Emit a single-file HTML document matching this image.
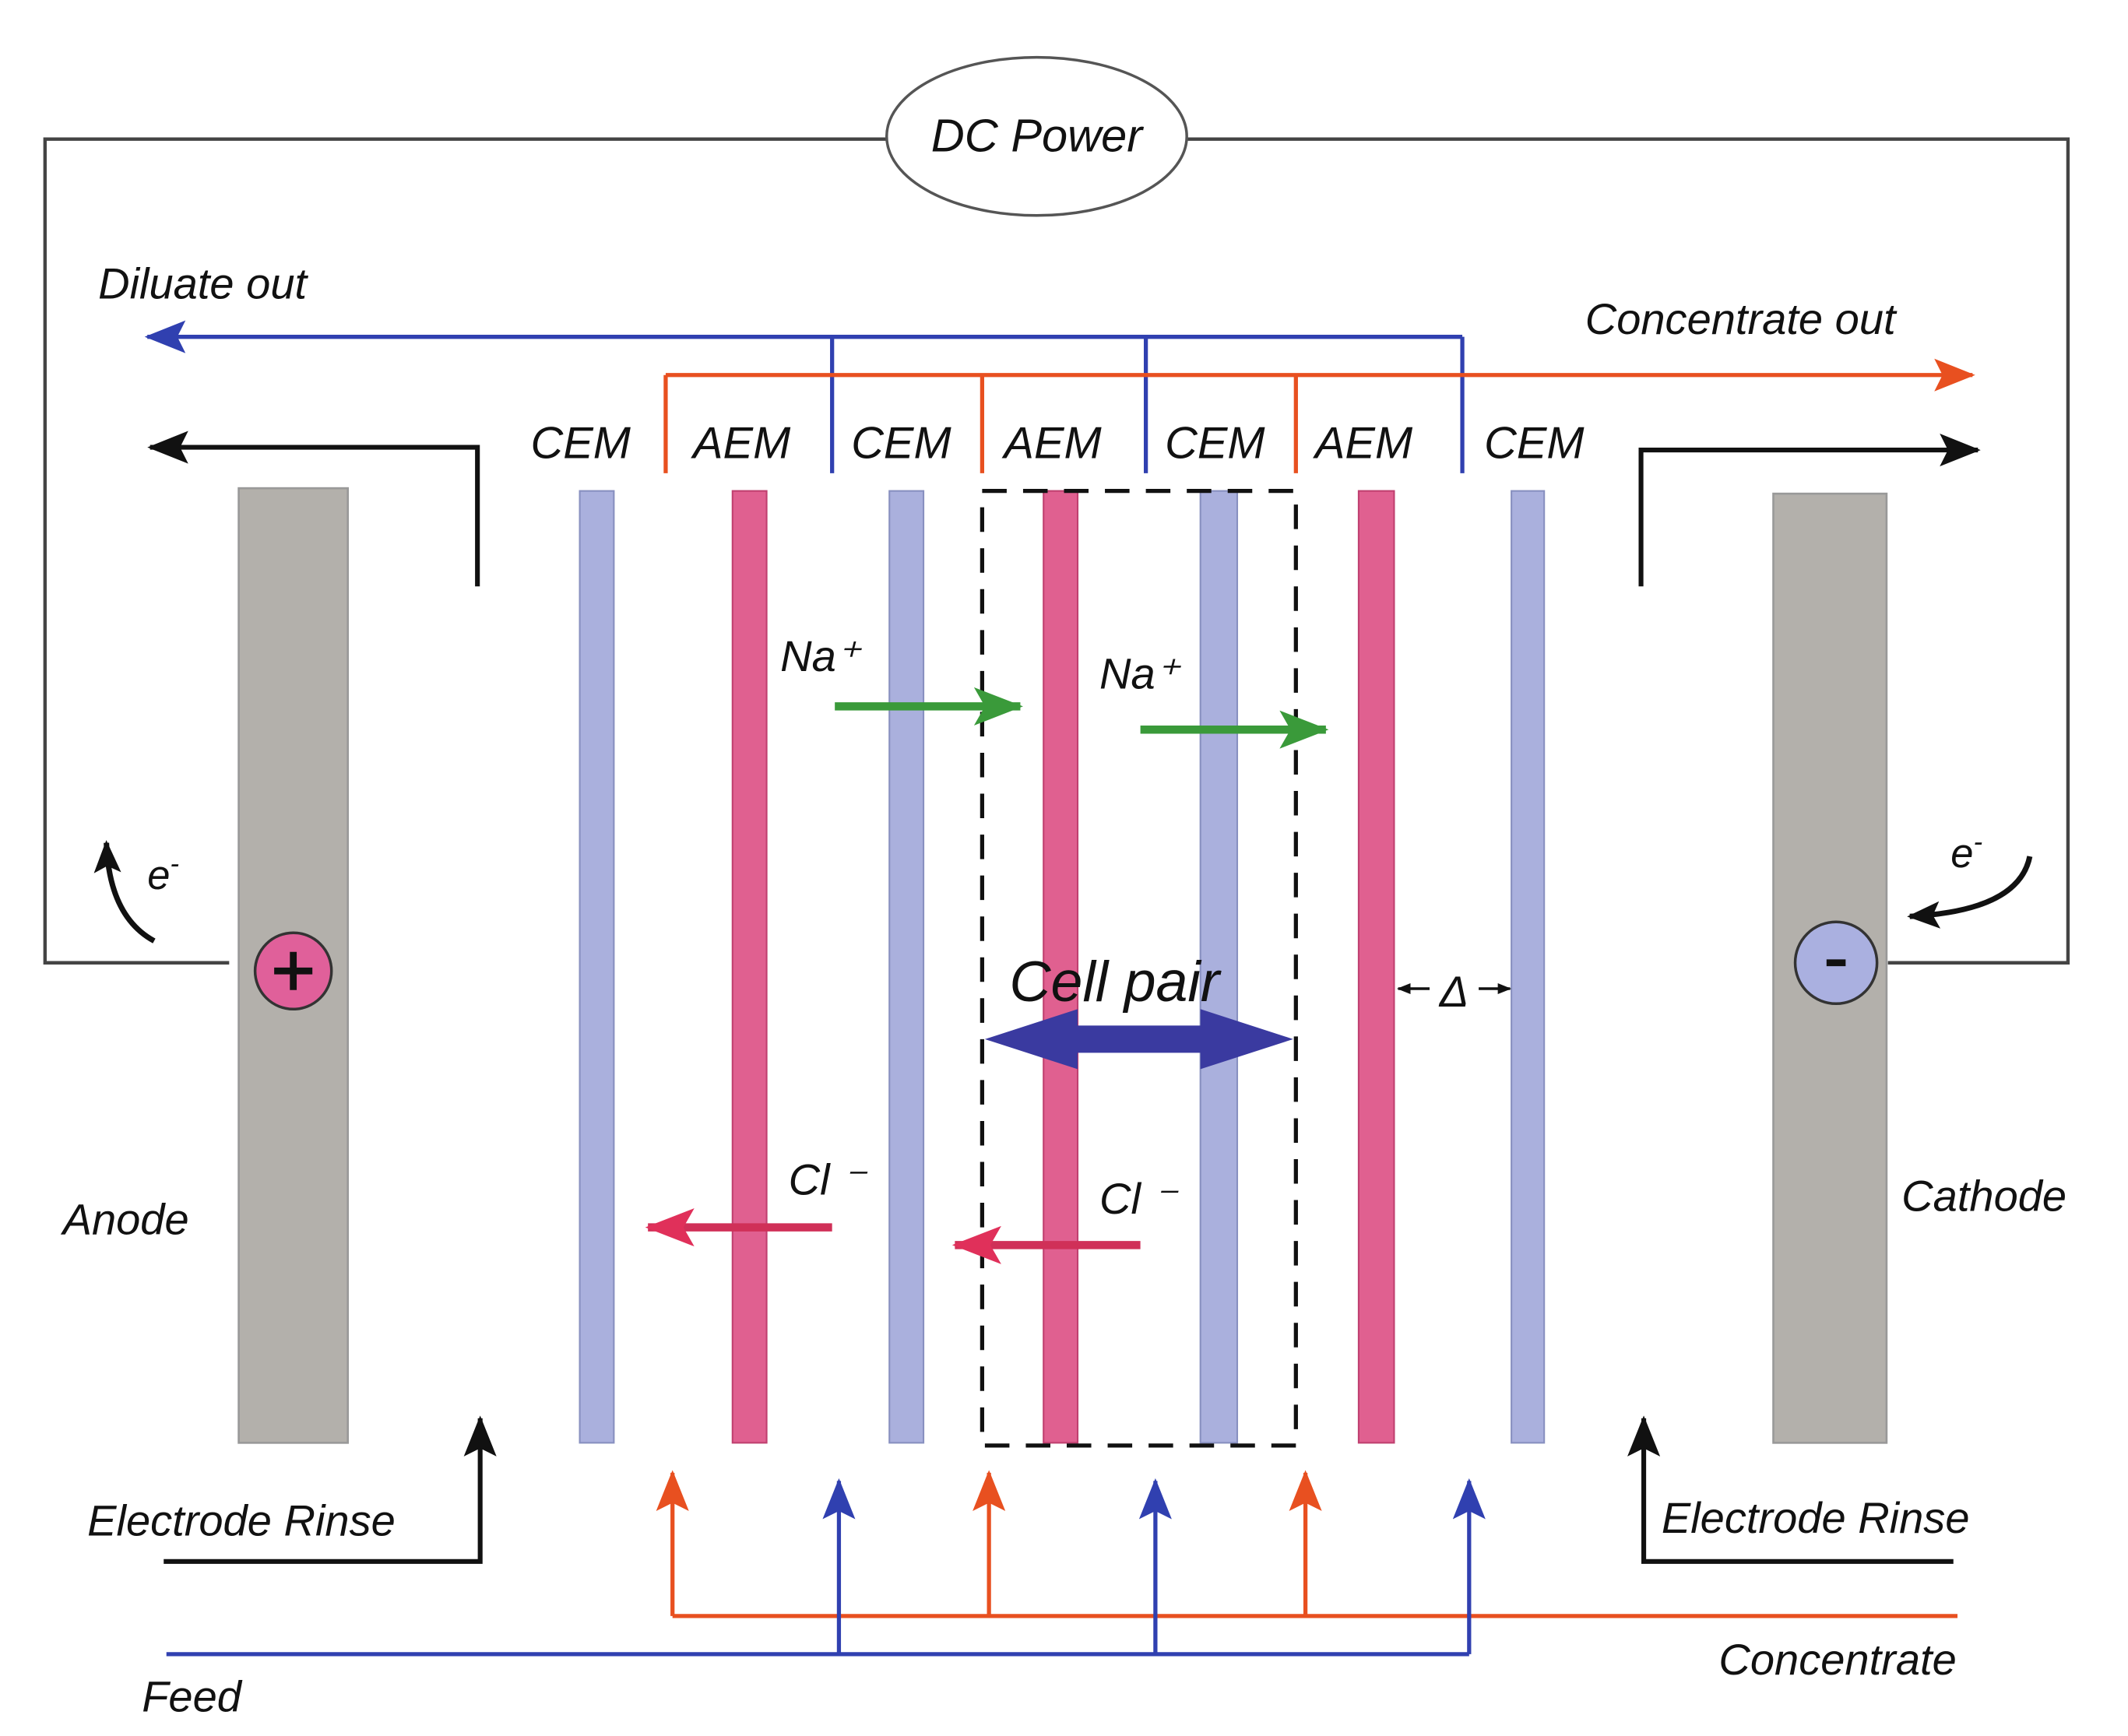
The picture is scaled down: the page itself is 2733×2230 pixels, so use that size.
<!DOCTYPE html>
<html><head><meta charset="utf-8"><style>
html,body{margin:0;padding:0;background:#fff}
svg{display:block}
text{font-family:"Liberation Sans",Arial,sans-serif;font-style:italic;fill:#111}
</style></head><body>
<svg width="2733" height="2230" viewBox="0 0 1560 1273" preserveAspectRatio="none" xmlns="http://www.w3.org/2000/svg">
<defs>
<marker id="abig" markerWidth="30" markerHeight="24" refX="28" refY="12" orient="auto" markerUnits="userSpaceOnUse"><path d="M0,0 L30,12 L0,24 L6,12z" fill="#3040b0"/></marker>
<marker id="aobig" markerWidth="30" markerHeight="24" refX="28" refY="12" orient="auto" markerUnits="userSpaceOnUse"><path d="M0,0 L30,12 L0,24 L6,12z" fill="#e85020"/></marker>
<marker id="akbig" markerWidth="30" markerHeight="24" refX="28" refY="12" orient="auto" markerUnits="userSpaceOnUse"><path d="M0,0 L30,12 L0,24 L6,12z" fill="#111"/></marker>
<marker id="ake" markerWidth="24" markerHeight="20" refX="22" refY="10" orient="auto" markerUnits="userSpaceOnUse"><path d="M0,0 L24,10 L0,20 L5,10z" fill="#111"/></marker>
<marker id="ag" markerWidth="36" markerHeight="28" refX="34" refY="14" orient="auto" markerUnits="userSpaceOnUse"><path d="M0,0 L36,14 L0,28 L8,14z" fill="#3a9a3a"/></marker>
<marker id="ar" markerWidth="36" markerHeight="28" refX="34" refY="14" orient="auto" markerUnits="userSpaceOnUse"><path d="M0,0 L36,14 L0,28 L8,14z" fill="#e0305a"/></marker>
<marker id="as" markerWidth="10" markerHeight="10" refX="9" refY="5" orient="auto" markerUnits="userSpaceOnUse"><path d="M0,1 L10,5 L0,9z" fill="#111"/></marker>
</defs>

<path d="M168,706 H33 V102 H650 M870,102 H1516 V706 H1384" fill="none" stroke="#444" stroke-width="2.5"/>
<ellipse cx="760" cy="100" rx="110" ry="58" fill="#fff" stroke="#555" stroke-width="2"/>
<text x="760" y="111" font-size="34" text-anchor="middle">DC Power</text>

<line x1="1072" y1="247" x2="108" y2="247" stroke="#3040b0" stroke-width="3" marker-end="url(#abig)"/>
<path d="M610,247 V347 M840,247 V347 M1072,247 V347" stroke="#3040b0" stroke-width="3" fill="none"/>
<line x1="488" y1="275" x2="1446" y2="275" stroke="#e85020" stroke-width="3" marker-end="url(#aobig)"/>
<path d="M488,275 V347 M720,275 V347 M950,275 V347" stroke="#e85020" stroke-width="3" fill="none"/>
<text x="72" y="219" font-size="32">Diluate out</text>
<text x="1162" y="245" font-size="32">Concentrate out</text>

<path d="M350,430 V328 H110" fill="none" stroke="#111" stroke-width="3.5" marker-end="url(#akbig)"/>
<path d="M1203,430 V330 H1450" fill="none" stroke="#111" stroke-width="3.5" marker-end="url(#akbig)"/>

<g font-size="33">
<text x="389" y="336">CEM</text><text x="508" y="336">AEM</text><text x="624" y="336">CEM</text>
<text x="736" y="336">AEM</text><text x="854" y="336">CEM</text><text x="964" y="336">AEM</text><text x="1088" y="336">CEM</text>
</g>

<rect x="175" y="358" width="80" height="700" fill="#b3b0ab" stroke="#999" stroke-width="1.5"/>
<rect x="1300" y="362" width="83" height="696" fill="#b3b0ab" stroke="#999" stroke-width="1.5"/>
<circle cx="215" cy="712" r="28" fill="#e0609a" stroke="#333" stroke-width="2"/>
<path d="M201,712 H229 M215,698 V726" stroke="#111" stroke-width="5"/>
<circle cx="1346" cy="706" r="30" fill="#aab0e0" stroke="#333" stroke-width="2"/>
<line x1="1339" y1="706" x2="1353" y2="706" stroke="#111" stroke-width="5"/>

<g stroke-width="1.2">
<rect x="425" y="360" width="25" height="698" fill="#aab0dd" stroke="#8890c0"/>
<rect x="537" y="360" width="25" height="698" fill="#e06090" stroke="#c04070"/>
<rect x="652" y="360" width="25" height="698" fill="#aab0dd" stroke="#8890c0"/>
<rect x="765" y="360" width="25" height="698" fill="#e06090" stroke="#c04070"/>
<rect x="880" y="360" width="27" height="698" fill="#aab0dd" stroke="#8890c0"/>
<rect x="996" y="360" width="26" height="698" fill="#e06090" stroke="#c04070"/>
<rect x="1108" y="360" width="24" height="698" fill="#aab0dd" stroke="#8890c0"/>
</g>

<rect x="720" y="360" width="230" height="700" fill="none" stroke="#111" stroke-width="3" stroke-dasharray="18,12"/>

<text x="572" y="492" font-size="32">Na⁺</text>
<text x="806" y="505" font-size="32">Na⁺</text>
<line x1="612" y1="518" x2="748" y2="518" stroke="#3a9a3a" stroke-width="6" marker-end="url(#ag)"/>
<line x1="836" y1="535" x2="972" y2="535" stroke="#3a9a3a" stroke-width="6" marker-end="url(#ag)"/>
<text x="578" y="876" font-size="32">Cl ⁻</text>
<text x="806" y="890" font-size="32">Cl ⁻</text>
<line x1="610" y1="900" x2="475" y2="900" stroke="#d03058" stroke-width="6" marker-end="url(#ar)"/>
<line x1="836" y1="913" x2="700" y2="913" stroke="#d03058" stroke-width="6" marker-end="url(#ar)"/>

<text x="740" y="734" font-size="42">Cell pair</text>
<path d="M722,762 L790,740 L790,752 L880,752 L880,740 L948,762 L880,784 L880,772 L790,772 L790,784z" fill="#3a3aa0"/>

<text x="1066" y="738" font-size="32" text-anchor="middle" font-style="normal">Δ</text>
<line x1="1048" y1="725" x2="1025" y2="725" stroke="#111" stroke-width="2" marker-end="url(#as)"/>
<line x1="1084" y1="725" x2="1107" y2="725" stroke="#111" stroke-width="2" marker-end="url(#as)"/>

<path d="M113,690 Q80,672 78,618" fill="none" stroke="#111" stroke-width="4" marker-end="url(#ake)"/>
<text x="108" y="652" font-size="30">e<tspan font-size="20" dy="-12">-</tspan></text>
<path d="M1488,628 Q1480,668 1400,672" fill="none" stroke="#111" stroke-width="4" marker-end="url(#ake)"/>
<text x="1430" y="636" font-size="30">e<tspan font-size="20" dy="-12">-</tspan></text>

<text x="46" y="905" font-size="32">Anode</text>
<text x="1394" y="888" font-size="32">Cathode</text>

<path d="M120,1145 H352 V1040" fill="none" stroke="#111" stroke-width="3.5" marker-end="url(#akbig)"/>
<path d="M1432,1145 H1205 V1040" fill="none" stroke="#111" stroke-width="3.5" marker-end="url(#akbig)"/>
<text x="64" y="1126" font-size="32">Electrode Rinse</text>
<text x="1218" y="1124" font-size="32">Electrode Rinse</text>

<line x1="493" y1="1185" x2="1435" y2="1185" stroke="#e85020" stroke-width="3"/>
<g stroke="#e85020" stroke-width="3" marker-end="url(#aobig)">
<line x1="493" y1="1185" x2="493" y2="1080"/><line x1="725" y1="1185" x2="725" y2="1080"/><line x1="957" y1="1185" x2="957" y2="1080"/>
</g>
<path d="M122,1213 H1077" stroke="#3040b0" stroke-width="3" fill="none"/>
<g stroke="#3040b0" stroke-width="3" marker-end="url(#abig)">
<line x1="615" y1="1213" x2="615" y2="1086"/><line x1="847" y1="1213" x2="847" y2="1086"/><line x1="1077" y1="1213" x2="1077" y2="1086"/>
</g>
<text x="1260" y="1228" font-size="32">Concentrate</text>
<text x="104" y="1255" font-size="32">Feed</text>
</svg>
</body></html>
